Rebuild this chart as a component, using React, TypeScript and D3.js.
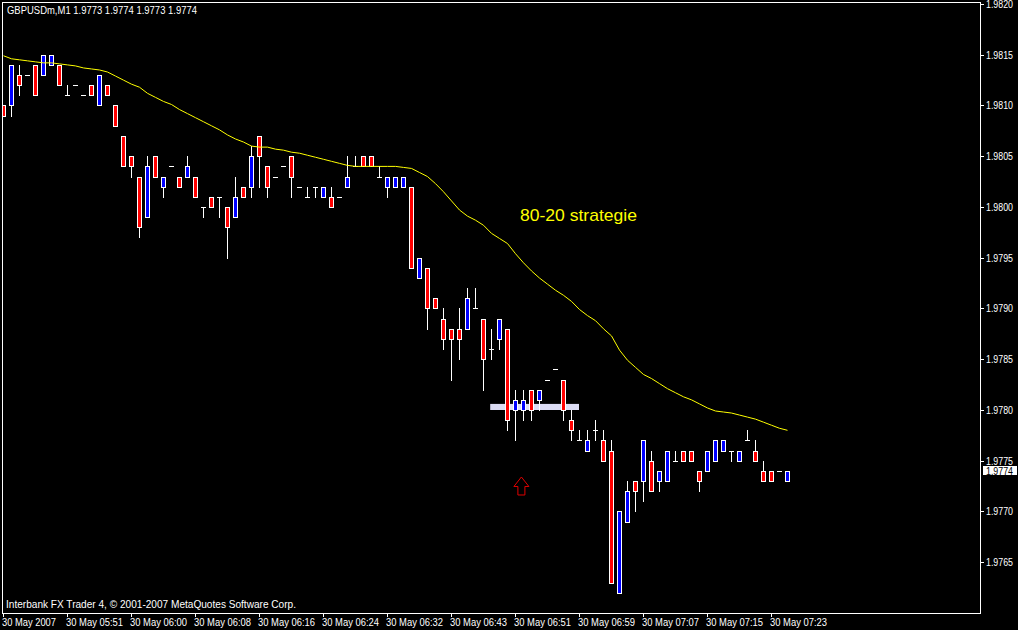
import React from "react";
import * as d3 from "d3";

const W = 1018;
const H = 630;

const symbolTitle = "GBPUSDm,M1  1.9773 1.9774 1.9773 1.9774";
const copyright = "Interbank FX Trader 4, \u00A9 2001-2007 MetaQuotes Software Corp.";
const annotation = "80-20 strategie";
const lastPrice = 1.9774;

const openP = [
  1.9810, 1.9810, 1.9813, 1.9813, 1.9814, 1.9813, 1.9814, 1.9814, 1.9811, 1.9812,
  1.9811, 1.9812, 1.9810, 1.9812, 1.9810, 1.9807, 1.9805, 1.9803, 1.9799, 1.9805,
  1.9802, 1.9804, 1.9803, 1.9803, 1.9803, 1.9800, 1.9801, 1.9801, 1.9800, 1.9799,
  1.9802, 1.9802, 1.9807, 1.9804, 1.9803, 1.9804, 1.9805, 1.9802, 1.9801, 1.9802,
  1.9801, 1.9801, 1.9801, 1.9802, 1.9804, 1.9805, 1.9805, 1.9803, 1.9802, 1.9802,
  1.9802, 1.9802, 1.9793, 1.9794, 1.9791, 1.9789, 1.9788, 1.9788, 1.9788, 1.9790,
  1.9789, 1.9786, 1.9787, 1.9788, 1.9780, 1.9780, 1.9782, 1.9781, 1.9783, 1.9784,
  1.9783, 1.9779, 1.9777, 1.9776, 1.9778, 1.9777, 1.9776, 1.9762, 1.9769, 1.9773,
  1.9773, 1.9775, 1.9773, 1.9773, 1.9775, 1.9776, 1.9776, 1.9774, 1.9774, 1.9775,
  1.9776, 1.9776, 1.9775, 1.9777, 1.9776, 1.9774, 1.9774, 1.9774, 1.9773,
];
const highP = [
  1.9810, 1.9814, 1.9814, 1.9813, 1.9814, 1.9815, 1.9815, 1.9814, 1.9812, 1.9812,
  1.9811, 1.9812, 1.9813, 1.9812, 1.9810, 1.9807, 1.9805, 1.9803, 1.9805, 1.9805,
  1.9803, 1.9804, 1.9803, 1.9805, 1.9803, 1.9800, 1.9801, 1.9801, 1.9800, 1.9803,
  1.9802, 1.9806, 1.9807, 1.9804, 1.9803, 1.9804, 1.9805, 1.9802, 1.9802, 1.9802,
  1.9802, 1.9802, 1.9801, 1.9805, 1.9805, 1.9805, 1.9805, 1.9804, 1.9803, 1.9803,
  1.9803, 1.9802, 1.9795, 1.9794, 1.9791, 1.9790, 1.9788, 1.9790, 1.9792, 1.9792,
  1.9789, 1.9788, 1.9789, 1.9788, 1.9782, 1.9782, 1.9782, 1.9782, 1.9783, 1.9784,
  1.9783, 1.9780, 1.9778, 1.9778, 1.9779, 1.9778, 1.9777, 1.9770, 1.9773, 1.9773,
  1.9777, 1.9776, 1.9774, 1.9776, 1.9776, 1.9776, 1.9776, 1.9774, 1.9776, 1.9777,
  1.9777, 1.9776, 1.9776, 1.9778, 1.9777, 1.9775, 1.9774, 1.9774, 1.9774,
];
const lowP = [
  1.9809, 1.9809, 1.9811, 1.9813, 1.9811, 1.9813, 1.9814, 1.9812, 1.9811, 1.9812,
  1.9811, 1.9811, 1.9810, 1.9811, 1.9808, 1.9804, 1.9803, 1.9797, 1.9799, 1.9803,
  1.9801, 1.9804, 1.9802, 1.9803, 1.9801, 1.9799, 1.9800, 1.9799, 1.9795, 1.9799,
  1.9801, 1.9801, 1.9802, 1.9801, 1.9803, 1.9804, 1.9801, 1.9802, 1.9801, 1.9801,
  1.9801, 1.9800, 1.9801, 1.9802, 1.9804, 1.9804, 1.9804, 1.9803, 1.9801, 1.9802,
  1.9802, 1.9794, 1.9793, 1.9788, 1.9790, 1.9786, 1.9783, 1.9785, 1.9788, 1.9790,
  1.9782, 1.9785, 1.9786, 1.9778, 1.9777, 1.9779, 1.9779, 1.9780, 1.9783, 1.9784,
  1.9779, 1.9777, 1.9777, 1.9776, 1.9777, 1.9775, 1.9763, 1.9762, 1.9769, 1.9770,
  1.9771, 1.9772, 1.9772, 1.9773, 1.9775, 1.9775, 1.9775, 1.9772, 1.9774, 1.9775,
  1.9776, 1.9775, 1.9775, 1.9777, 1.9775, 1.9773, 1.9773, 1.9774, 1.9773,
];
const closeP = [
  1.9809, 1.9814, 1.9812, 1.9813, 1.9811, 1.9815, 1.9815, 1.9812, 1.9811, 1.9812,
  1.9811, 1.9811, 1.9813, 1.9811, 1.9808, 1.9804, 1.9804, 1.9798, 1.9804, 1.9803,
  1.9803, 1.9804, 1.9802, 1.9804, 1.9801, 1.9800, 1.9800, 1.9801, 1.9798, 1.9801,
  1.9801, 1.9805, 1.9805, 1.9802, 1.9803, 1.9804, 1.9803, 1.9802, 1.9801, 1.9802,
  1.9802, 1.9800, 1.9801, 1.9803, 1.9804, 1.9804, 1.9804, 1.9803, 1.9803, 1.9803,
  1.9803, 1.9794, 1.9795, 1.9790, 1.9790, 1.9787, 1.9787, 1.9787, 1.9791, 1.9790,
  1.9785, 1.9786, 1.9789, 1.9779, 1.9781, 1.9781, 1.9780, 1.9782, 1.9783, 1.9784,
  1.9780, 1.9778, 1.9777, 1.9777, 1.9778, 1.9775, 1.9763, 1.9770, 1.9772, 1.9772,
  1.9777, 1.9772, 1.9774, 1.9776, 1.9775, 1.9775, 1.9775, 1.9773, 1.9776, 1.9777,
  1.9777, 1.9776, 1.9776, 1.9777, 1.9775, 1.9773, 1.9773, 1.9774, 1.9774,
];
const maLine = [
  1.98149, 1.98146, 1.98145, 1.98144, 1.98143, 1.98142, 1.98142, 1.98141, 1.98140, 1.98139,
  1.98137, 1.98136, 1.98135, 1.98133, 1.98129, 1.98125, 1.98121, 1.98118, 1.98112, 1.98108,
  1.98104, 1.98101, 1.98096, 1.98092, 1.98088, 1.98084, 1.98080, 1.98076, 1.98071, 1.98067,
  1.98064, 1.98060, 1.98059, 1.98059, 1.98057, 1.98056, 1.98054, 1.98053, 1.98051, 1.98049,
  1.98047, 1.98045, 1.98043, 1.98041, 1.98040, 1.98040, 1.98040, 1.98040, 1.98040, 1.98040,
  1.98039, 1.98038, 1.98034, 1.98030, 1.98023, 1.98015, 1.98006, 1.97997, 1.97991, 1.97987,
  1.97982, 1.97974, 1.97969, 1.97964, 1.97954, 1.97945, 1.97937, 1.97930, 1.97924, 1.97918,
  1.97913, 1.97907, 1.97899, 1.97893, 1.97888, 1.97880, 1.97873, 1.97859, 1.97849, 1.97842,
  1.97835, 1.97831, 1.97826, 1.97821, 1.97817, 1.97813, 1.97810, 1.97806, 1.97802, 1.97799,
  1.97798, 1.97797, 1.97795, 1.97793, 1.97791, 1.97788, 1.97785, 1.97782, 1.97780,
];

const priceTicks = [1.982, 1.9815, 1.981, 1.9805, 1.98, 1.9795, 1.979, 1.9785, 1.978, 1.9775, 1.977, 1.9765];
const timeTickBars = [0, 8, 16, 24, 32, 40, 48, 56, 64, 72, 80, 88, 96];
const timeLabels = [
  "30 May 2007", "30 May 05:51", "30 May 06:00", "30 May 06:08", "30 May 06:16",
  "30 May 06:24", "30 May 06:32", "30 May 06:43", "30 May 06:51", "30 May 06:59",
  "30 May 07:07", "30 May 07:15", "30 May 07:23",
];
// highlighted zone (price band) and bar range
const zoneBars = [60.9, 72];
const zonePrices = [1.97806, 1.97800];
const arrowBar = 64.8;
const arrowPrices = [1.97734];

const FONT = "'Liberation Sans', Arial, sans-serif";

export default function App() {
  const x = d3.scaleLinear().domain([0, openP.length - 1]).range([3, 787]);
  const y = d3.scaleLinear().domain([1.976, 1.982]).range([613, 4]);
  const py = (v: number) => Math.round(y(v));

  const ma = d3
    .line<number>()
    .x((_, i) => x(i) + 0.5)
    .y((d) => y(d))(maLine);

  const zx0 = x(zoneBars[0]);
  const zx1 = x(zoneBars[1]);
  const zy0 = y(zonePrices[0]);
  const zy1 = y(zonePrices[1]);

  const ax = x(arrowBar);
  const ayTip = y(arrowPrices[0]);
  const ayBot = ayTip + 18;
  const ayMid = ayTip + 9.5;
  const arrowPts = [
    [ax, ayTip],
    [ax - 7.5, ayMid],
    [ax - 3.5, ayMid],
    [ax - 3.5, ayBot],
    [ax + 3.5, ayBot],
    [ax + 3.5, ayMid],
    [ax + 7.5, ayMid],
  ]
    .map((p) => p.join(","))
    .join(" ");

  const lastY = py(lastPrice);

  return (
    <svg
      width={W}
      height={H}
      style={{ position: "fixed", left: 0, top: 0, background: "#000", display: "block" }}
    >
      <rect x={0} y={0} width={W} height={H} fill="#000" />
      <defs>
        <clipPath id="plot">
          <rect x={3} y={3} width={977} height={610} />
        </clipPath>
      </defs>

      <g clipPath="url(#plot)">
        <rect x={zx0} y={zy0} width={zx1 - zx0} height={zy1 - zy0} fill="#dcdcf4" />
        {openP.map((o, i) => {
          const c = closeP[i];
          const cx = x(i);
          const top = py(Math.max(o, c));
          const bot = py(Math.min(o, c));
          const hy = py(highP[i]);
          const ly = py(lowP[i]);
          const fill = c > o ? "#0000ff" : "#ff0000";
          return (
            <g key={i} shapeRendering="crispEdges">
              {(hy < top || ly > bot) && (
                <line x1={cx + 0.5} x2={cx + 0.5} y1={hy} y2={ly + 1} stroke="#fff" strokeWidth={1} />
              )}
              {o === c ? (
                <line x1={cx - 2} x2={cx + 3} y1={top + 0.5} y2={top + 0.5} stroke="#fff" strokeWidth={1} />
              ) : (
                <rect
                  x={cx - 1.5}
                  y={top + 0.5}
                  width={4}
                  height={bot - top}
                  fill={fill}
                  stroke="#fff"
                  strokeWidth={1}
                />
              )}
            </g>
          );
        })}
        <path d={ma || ""} fill="none" stroke="#ffff00" strokeWidth={1} />
        <polygon points={arrowPts} fill="none" stroke="#e00000" strokeWidth={1} />
        <text x={520} y={221} fill="#ffff00" fontFamily={FONT} fontSize={17} textLength={117} lengthAdjust="spacingAndGlyphs">
          {annotation}
        </text>
      </g>

      {/* frame */}
      <rect x={2.5} y={2.5} width={978} height={611} fill="none" stroke="#fff" strokeWidth={1} shapeRendering="crispEdges" />

      {/* header */}
      <text x={7} y={14} fill="#fff" fontFamily={FONT} fontSize={10.5} textLength={190} lengthAdjust="spacingAndGlyphs">
        {symbolTitle}
      </text>
      <text x={6} y={608} fill="#fff" fontFamily={FONT} fontSize={10.5} textLength={290} lengthAdjust="spacingAndGlyphs">
        {copyright}
      </text>

      {/* price axis */}
      {priceTicks.map((p) => {
        const ty = py(p);
        return (
          <g key={p}>
            <line x1={981} x2={984} y1={ty + 0.5} y2={ty + 0.5} stroke="#fff" shapeRendering="crispEdges" />
            <text x={986} y={ty + 4} fill="#fff" fontFamily={FONT} fontSize={10} textLength={27} lengthAdjust="spacingAndGlyphs">
              {p.toFixed(4)}
            </text>
          </g>
        );
      })}
      <rect x={983} y={lastY - 5} width={34} height={9} fill="#fff" />
      <text x={986} y={lastY + 3.5} fill="#000" fontFamily={FONT} fontSize={10} textLength={27} lengthAdjust="spacingAndGlyphs">
        {lastPrice.toFixed(4)}
      </text>

      {/* time axis */}
      {timeTickBars.map((b, k) => {
        const tx = x(b);
        return (
          <g key={b}>
            <line x1={tx + 0.5} x2={tx + 0.5} y1={613} y2={617} stroke="#fff" shapeRendering="crispEdges" />
            <text
              x={tx - 1}
              y={626}
              fill="#fff"
              fontFamily={FONT}
              fontSize={10.5}
              textLength={k === 0 ? 54 : 57}
              lengthAdjust="spacingAndGlyphs"
            >
              {timeLabels[k]}
            </text>
          </g>
        );
      })}
    </svg>
  );
}
